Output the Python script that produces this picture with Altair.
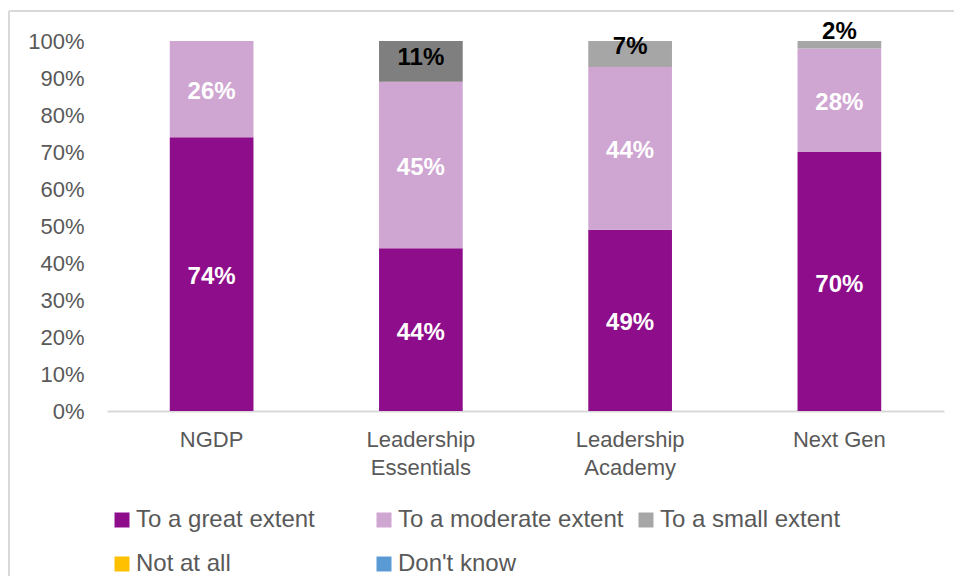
import altair as alt
import pandas as pd

programs = ["NGDP", "Leadership Essentials", "Leadership Academy", "Next Gen"]
series_names = ["To a great extent", "To a moderate extent", "To a small extent",
                "Not at all", "Don't know"]
great = [74, 44, 49, 70]
moderate = [26, 45, 44, 28]
small = [0, 11, 7, 2]
not_at_all = [0, 0, 0, 0]
dont_know = [0, 0, 0, 0]
series_colors = ["#8E0D8A", "#CFA6D2", "#A6A6A6", "#FFC000", "#5B9BD5"]

rows = []
for si, (name, vals) in enumerate(zip(series_names, [great, moderate, small, not_at_all, dont_know])):
    for p, v in zip(programs, vals):
        rows.append({"program": p, "series": name, "order": si, "v": v})
df = pd.DataFrame(rows)

W, H = 837, 370
FONT = "Liberation Sans"

base = alt.Chart(df).transform_stack(
    stack="v", groupby=["program"], sort=[alt.SortField("order")], as_=["v0", "v1"]
).transform_calculate(
    mid="(datum.v0 + datum.v1) / 2",
    top_pos="datum.v1 + 4.5 - 0.78 * datum.v",
    label="datum.v + '%'"
)

x_scale = alt.Scale(paddingInner=0.6, paddingOuter=0.3)
x_axis = alt.Axis(labelAngle=0, ticks=False, domainColor="#D9D9D9", domainWidth=2,
                  labelFontSize=22, labelColor="#595959", labelFont=FONT,
                  labelPadding=18, labelLineHeight=28, title=None,
                  labelExpr="datum.value == 'Next Gen' ? datum.value : split(datum.value, ' ')")

y_scale = alt.Scale(domain=[0, 100], nice=False)
y_axis = alt.Axis(values=list(range(0, 101, 10)), tickCount=20, title=None,
                  labelExpr="datum.value + '%'",
                  labelOverlap=False,
                  domain=False, ticks=False, grid=False,
                  labelFontSize=22, labelColor="#595959", labelFont=FONT,
                  labelPadding=23)

bars = base.mark_bar().encode(
    x=alt.X("program:N", sort=programs, title=None, scale=x_scale, axis=x_axis),
    y=alt.Y("v0:Q", title=None, scale=y_scale, axis=y_axis),
    y2="v1:Q",
    color=alt.condition(
        (alt.datum.program == "Leadership Essentials") & (alt.datum.series == "To a small extent"),
        alt.value("#7F7F7F"),
        alt.Color("series:N", scale=alt.Scale(domain=series_names, range=series_colors),
                  legend=alt.Legend(title=None, orient="none", legendX=3, legendY=467,
                                    direction="horizontal", columns=3, gridAlign="all",
                                    columnPadding=10, rowPadding=20, symbolType="square",
                                    symbolSize=225, symbolStrokeWidth=0, labelFontSize=24,
                                    labelColor="#595959", labelFont=FONT, labelOffset=2,
                                    labelLimit=0)),
    ),
    order=alt.Order("order:Q"),
)

inner_labels = base.transform_filter(
    "datum.v > 0 && datum.order < 2"
).mark_text(font=FONT, fontSize=24, fontWeight="bold", color="white", dy=3).encode(
    x=alt.X("program:N", sort=programs, title=None, scale=x_scale, axis=x_axis),
    y=alt.Y("mid:Q", title=None, scale=y_scale, axis=y_axis),
    text="label:N",
)

small_labels = base.transform_filter(
    "datum.v > 0 && datum.order == 2"
).mark_text(font=FONT, fontSize=24, fontWeight="bold", color="#000000", dy=2).encode(
    x=alt.X("program:N", sort=programs, title=None, scale=x_scale, axis=x_axis),
    y=alt.Y("top_pos:Q", title=None, scale=y_scale, axis=y_axis),
    text="label:N",
)

frame_data = alt.Data(values=[{"a": 1}])
frame_left = alt.Chart(frame_data).mark_rule(
    stroke="#D9D9D9", strokeWidth=2, clip=False
).encode(x=alt.value(-98), y=alt.value(-30), y2=alt.value(H + 400))
frame_top = alt.Chart(frame_data).mark_rule(
    stroke="#D9D9D9", strokeWidth=2, clip=False
).encode(y=alt.value(-30), x=alt.value(-98), x2=alt.value(W + 200))

chart = alt.layer(bars, inner_labels, small_labels, frame_left, frame_top).properties(
    width=W, height=H,
    background="white",
    autosize=alt.AutoSizeParams(type="none"),
    padding={"left": 99, "top": 33, "right": 10, "bottom": 165},
).configure_view(strokeWidth=0, stroke="transparent").configure_axis(labelOverlap=False)

chart.save("out.html", embed_options={"renderer": "svg", "actions": False})
